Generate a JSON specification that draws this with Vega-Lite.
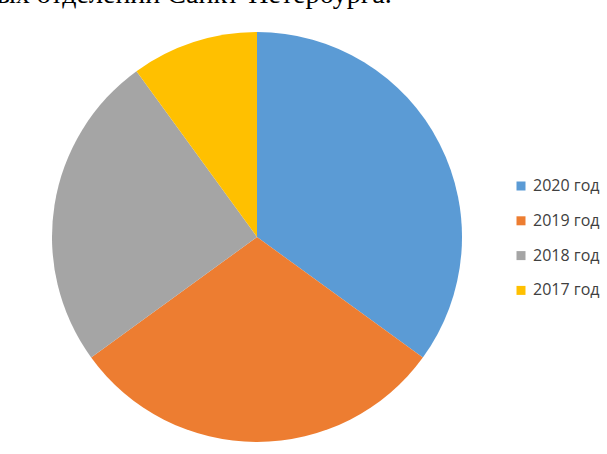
{
  "$schema": "https://vega.github.io/schema/vega-lite/v6.json",
  "width": 500,
  "height": 434,
  "autosize": "none",
  "padding": {"left": 7, "top": 20, "right": 100, "bottom": 0},
  "background": "white",
  "config": {"view": {"stroke": null}},
  "title": {
    "text": "ых отделений Санкт-Петербурга.",
    "anchor": "start",
    "font": "Liberation Serif",
    "fontSize": 28,
    "fontWeight": "normal",
    "color": "#000000",
    "baseline": "alphabetic",
    "offset": 0,
    "dy": 11,
    "dx": -10
  },
  "data": {
    "values": [
      {"year": "2020 год", "value": 35, "ord": 1},
      {"year": "2019 год", "value": 30, "ord": 2},
      {"year": "2018 год", "value": 25, "ord": 3},
      {"year": "2017 год", "value": 10, "ord": 4}
    ]
  },
  "mark": {"type": "arc", "radius": 205},
  "encoding": {
    "theta": {"field": "value", "type": "quantitative", "stack": true},
    "order": {"field": "ord", "type": "quantitative"},
    "color": {
      "field": "year",
      "type": "nominal",
      "sort": null,
      "scale": {
        "domain": ["2020 год", "2019 год", "2018 год", "2017 год"],
        "range": ["#5B9BD5", "#ED7D31", "#A5A5A5", "#FFC000"]
      },
      "legend": {
        "title": null,
        "orient": "none",
        "legendX": 506,
        "legendY": 158,
        "padding": 0,
        "symbolType": "square",
        "symbolSize": 81,
        "symbolStrokeWidth": 0,
        "labelFont": "Open Sans",
        "labelFontSize": 16,
        "labelColor": "#404040",
        "labelOffset": 4,
        "rowPadding": 18.8
      }
    }
  }
}
